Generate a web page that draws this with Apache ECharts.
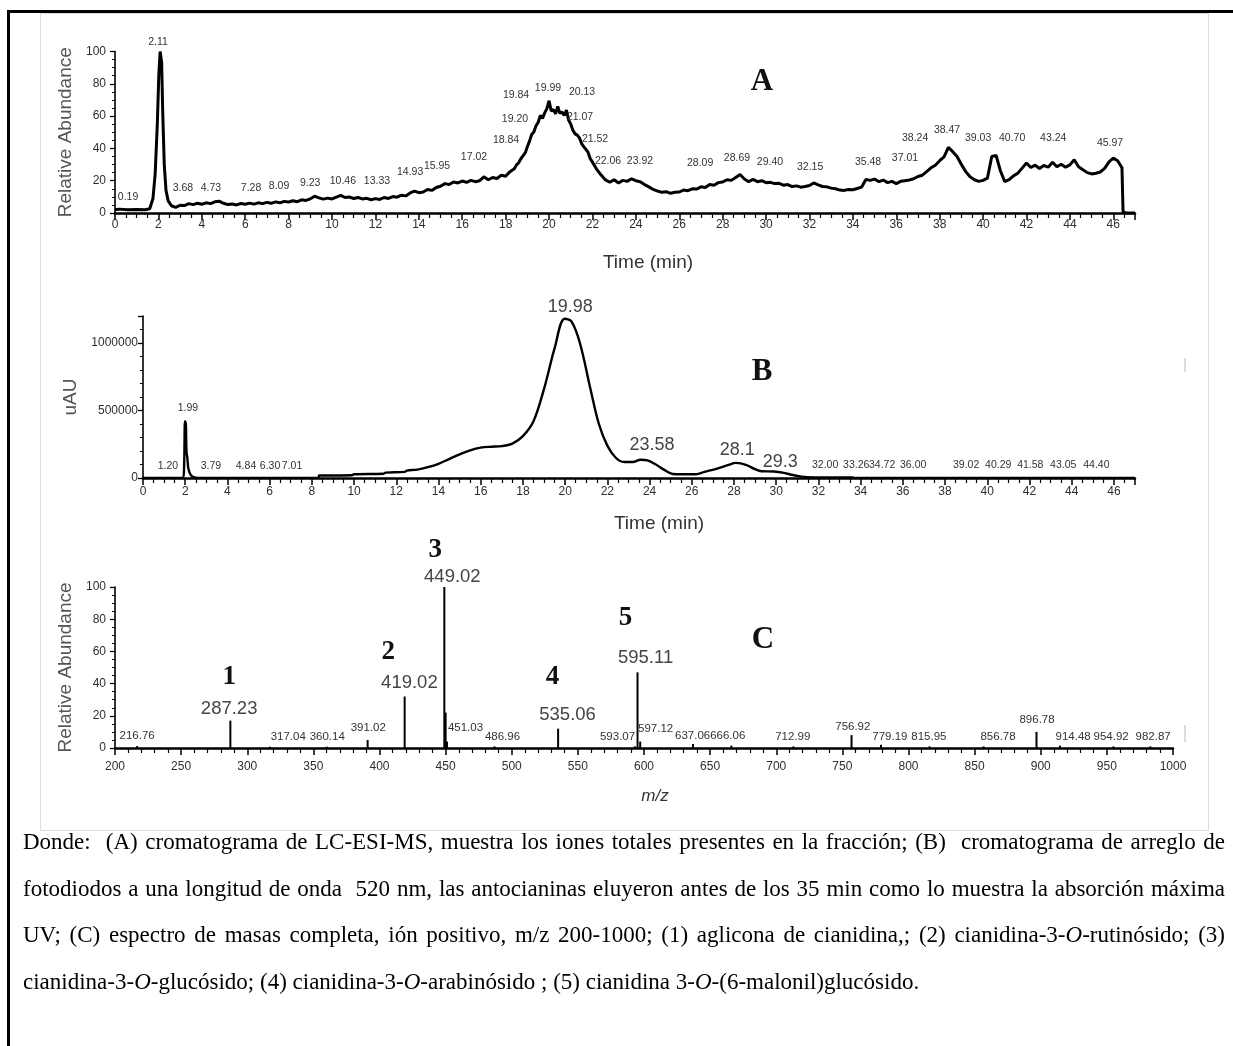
<!DOCTYPE html>
<html lang="es">
<head>
<meta charset="utf-8">
<title>Cromatogramas LC-ESI-MS, DAD y espectro de masas</title>
<script src="https://cdn.jsdelivr.net/npm/echarts/dist/echarts.min.js"></script>
<style>
  html, body { margin: 0; padding: 0; background: #fff; }
  #chart { position: absolute; left: 0; top: 0; width: 1233px; height: 1046px; }
  #caption {
    position: absolute; left: 23px; top: 819px; width: 1202px;
    font-family: "Liberation Serif", "Times New Roman", serif;
    font-size: 23px; line-height: 46.7px; color: #000;
  }
  #caption div { text-align: justify; text-align-last: justify; }
  #caption div.last { text-align-last: left; }
</style>
</head>
<body>
<div id="chart"></div>
<div id="caption">
  <div>Donde:&nbsp; (A) cromatograma de LC-ESI-MS, muestra los iones totales presentes en la fracción; (B)&nbsp; cromatograma de arreglo de</div>
  <div>fotodiodos a una longitud de onda&nbsp; 520 nm, las antocianinas eluyeron antes de los 35 min como lo muestra la absorción máxima</div>
  <div>UV; (C) espectro de masas completa, ión positivo, m/z 200-1000; (1) aglicona de cianidina,; (2) cianidina-3-<i>O</i>-rutinósido; (3)</div>
  <div class="last">cianidina-3-<i>O</i>-glucósido; (4) cianidina-3-<i>O</i>-arabinósido ; (5) cianidina 3-<i>O</i>-(6-malonil)glucósido.</div>
</div>
<script>
// ---- (A) total ion chromatogram: [time (min), relative abundance (%)] ----
const ticTrace = [
  [0,2.0],[0.19,2.4],[0.6,2.0],[1.0,2.1],[1.4,2.0],[1.6,2.6],[1.75,9],[1.85,24],[1.95,55],[2.02,86],[2.08,100],[2.11,99],[2.15,93],[2.2,62],[2.27,30],[2.35,14],[2.45,7.5],
  [2.6,4.5],[2.8,3.5],[3.0,4.8],[3.2,4.6],[3.4,5.8],[3.6,5.2],[3.8,6.0],[4.0,5.4],[4.2,6.3],[4.4,5.8],[4.6,6.9],[4.8,7.3],[5.0,6.0],[5.2,5.2],[5.4,5.6],[5.6,5.0],[5.8,5.9],[6.0,5.4],
  [6.2,6.1],[6.4,5.5],[6.6,6.3],[6.8,5.8],[7.0,6.6],[7.2,6.0],[7.4,6.9],[7.6,6.3],[7.8,7.2],[8.0,6.8],[8.2,7.6],[8.4,7.0],[8.6,8.2],[8.8,7.8],[9.0,8.8],[9.2,10.4],[9.4,9.4],
  [9.6,8.6],[9.8,9.2],[10.0,8.7],[10.2,9.8],[10.4,10.9],[10.6,9.6],[10.8,9.9],[11.0,9.0],[11.2,9.6],[11.4,8.7],[11.6,9.1],[11.8,8.2],[12.0,8.9],[12.2,8.4],[12.4,9.6],[12.6,9.0],
  [12.8,10.2],[13.0,9.8],[13.2,11.0],[13.4,10.6],[13.6,12.4],[13.8,13.6],[14.0,12.6],[14.2,13.0],[14.4,14.6],[14.6,14.0],[14.8,15.8],[15.0,16.6],[15.2,18.2],[15.4,17.6],[15.6,19.2],
  [15.8,18.6],[16.0,19.8],[16.2,19.0],[16.4,20.2],[16.6,19.4],[16.8,20.0],[17.0,22.4],[17.2,20.6],[17.4,22.0],[17.6,21.4],[17.8,23.4],[18.0,22.8],[18.2,25.6],[18.4,27.4],[18.5,29.8],
  [18.6,31.0],[18.7,33.6],[18.8,35.4],[18.9,37.2],[19.0,41.0],[19.1,44.5],[19.2,48.6],[19.3,50.2],[19.4,54.0],[19.5,56.2],[19.6,60.4],[19.7,58.6],[19.8,62.0],[19.9,64.6],[20.0,69.5],
  [20.1,63.2],[20.2,64.0],[20.3,61.4],[20.4,66.0],[20.5,61.8],[20.6,62.5],[20.7,60.4],[20.8,63.8],[20.9,57.6],[21.0,55.0],[21.1,51.2],[21.2,49.0],[21.3,48.2],[21.4,46.5],[21.5,43.0],
  [21.6,41.0],[21.7,39.4],[21.8,37.5],[21.9,33.6],[22.0,31.5],[22.2,27.0],[22.4,23.5],[22.6,20.5],[22.8,19.0],[23.0,20.6],[23.2,18.6],[23.4,20.2],[23.6,19.6],[23.8,21.2],[24.0,20.0],
  [24.2,19.4],[24.4,17.6],[24.6,16.2],[24.8,14.6],[25.0,13.6],[25.2,12.8],[25.4,13.2],[25.6,12.2],[25.8,12.8],[26.0,13.0],[26.2,14.2],[26.4,13.8],[26.6,15.0],[26.8,14.8],[27.0,16.2],
  [27.2,15.8],[27.4,17.6],[27.6,17.2],[27.8,18.8],[28.0,19.2],[28.2,20.6],[28.4,20.2],[28.6,22.0],[28.8,23.8],[29.0,21.0],[29.2,19.4],[29.4,20.8],[29.6,19.4],[29.8,20.0],[30.0,18.8],
  [30.2,19.0],[30.4,18.2],[30.6,18.4],[30.8,17.2],[31.0,17.6],[31.2,16.4],[31.4,16.8],[31.6,16.0],[31.8,16.4],[32.0,17.0],[32.2,18.6],[32.4,17.4],[32.6,16.4],[32.8,16.2],[33.0,15.4],
  [33.2,15.0],[33.4,14.2],[33.6,14.0],[33.8,14.6],[34.0,14.4],[34.2,15.2],[34.4,16.0],[34.6,20.8],[34.8,20.2],[35.0,21.0],[35.2,19.4],[35.4,20.4],[35.6,18.8],[35.8,19.6],[36.0,18.2],
  [36.2,19.6],[36.4,20.0],[36.6,20.4],[36.8,21.2],[37.0,22.6],[37.2,23.4],[37.4,25.6],[37.6,28.0],[37.8,29.6],[38.0,32.4],[38.2,34.8],[38.4,40.6],[38.6,38.0],[38.8,35.0],[39.0,30.0],
  [39.2,25.6],[39.4,22.4],[39.6,20.6],[39.8,19.6],[40.0,20.2],[40.2,21.6],[40.4,35.0],[40.6,35.6],[40.8,26.0],[41.0,19.4],[41.2,20.6],[41.4,23.0],[41.6,24.6],[41.8,27.8],[42.0,31.0],
  [42.2,28.2],[42.4,29.6],[42.6,27.6],[42.8,29.4],[43.0,28.4],[43.2,31.4],[43.4,28.6],[43.6,30.2],[43.8,28.4],[44.0,29.8],[44.2,33.0],[44.4,28.6],[44.6,26.8],[44.8,25.0],[45.0,24.2],
  [45.2,24.6],[45.4,25.4],[45.6,27.6],[45.8,31.6],[46.0,34.0],[46.2,32.4],[46.4,28.0],[46.45,0.6],[46.6,0],[47,0]
];
// retention-time labels of (A): [label anchor time, label anchor abundance, text]
const ticPeakLabels = [
  [0.6,9.9,'0.19'],[1.98,106,'2.11'],[3.13,15.5,'3.68'],[4.42,15.5,'4.73'],[6.27,15.5,'7.28'],[7.56,16.7,'8.09'],
  [8.99,18.6,'9.23'],[10.5,19.8,'10.46'],[12.07,19.8,'13.33'],[13.6,25.4,'14.93'],[14.84,29.1,'15.95'],[16.54,34.7,'17.02'],
  [18.02,45.2,'18.84'],[18.43,58.2,'19.20'],[18.48,73.1,'19.84'],[19.95,77.4,'19.99'],[21.52,74.9,'20.13'],[21.43,59.4,'21.07'],
  [22.12,45.8,'21.52'],[22.72,32.2,'22.06'],[24.19,32.2,'23.92'],[26.96,31,'28.09'],[28.66,34,'28.69'],[30.18,31.6,'29.40'],
  [32.03,28.5,'32.15'],[34.7,31.6,'35.48'],[36.4,34,'37.01'],[36.87,46.4,'38.24'],[38.34,51.4,'38.47'],[39.77,46.4,'39.03'],
  [41.34,46.4,'40.70'],[43.23,46.4,'43.24'],[45.85,43.3,'45.97']
];

// ---- (B) diode-array chromatogram at 520 nm: [time (min), uAU] ----
const dadTrace = [
  [0,0],[1.2,0],[1.9,0],[1.95,100000],[1.99,420000],[2.03,400000],[2.06,200000],[2.1,150000],[2.15,70000],[2.25,25000],[2.4,6000],[2.6,0],
  [8.3,0],[8.35,18000],[9.9,20000],[10.0,28000],[11.4,32000],[11.5,40000],[12.4,45000],[12.5,55000],[13.0,62000],[13.5,80000],[14.0,105000],
  [14.5,140000],[15.0,175000],[15.5,205000],[16.0,225000],[16.5,232000],[17.0,236000],[17.5,255000],[18.0,310000],[18.5,420000],[19.0,660000],
  [19.5,960000],[19.98,1180000],[20.3,1160000],[20.7,1000000],[21.2,660000],[21.6,400000],[22.0,240000],[22.4,150000],[22.8,118000],[23.2,118000],
  [23.58,135000],[23.9,130000],[24.3,100000],[24.7,60000],[25.1,30000],[25.5,28000],[26.2,28000],[26.6,45000],[27.2,70000],[27.7,95000],
  [28.1,112000],[28.6,95000],[29.0,65000],[29.3,50000],[29.9,48000],[30.3,40000],[30.8,22000],[31.2,10000],[31.8,5000],[33.6,5000],[33.7,0],[47,0]
];
// small retention-time labels of (B): [anchor time, anchor uAU, text]
const dadMinorLabels = [
  [2.13,518500,'1.99'],[1.18,88900,'1.20'],[3.22,88900,'3.79'],[4.88,88900,'4.84'],[6.02,88900,'6.30'],[7.06,88900,'7.01'],
  [32.32,96300,'32.00'],[33.79,96300,'33.26'],[35.02,96300,'34.72'],[36.49,96300,'36.00'],[39.0,96300,'39.02'],
  [40.52,96300,'40.29'],[42.04,96300,'41.58'],[43.6,96300,'43.05'],[45.17,96300,'44.40']
];
// main retention-time labels of (B)
const dadMajorLabels = [
  [20.24,1266700,'19.98'],[24.12,244400,'23.58'],[28.15,207400,'28.1'],[30.19,118500,'29.3']
];

// ---- (C) full-scan positive-ion mass spectrum ----
const msMz        = [216.76, 287.23, 317.04, 360.14, 391.02, 419.02, 449.02, 450.0, 451.03, 486.96, 535.06, 593.07, 595.11, 597.12, 637.06, 666.06, 712.99, 756.92, 779.19, 815.95, 856.78, 896.78, 914.48, 954.92, 982.87];
const msIntensity = [1.2,    17,     0.8,    0.8,    5,      32,     100,    22,    4,      1,      12,     1,      47,     4,      2.5,    1.5,    1,      8,      2,      1,      1,      10,     1.5,    1,      1];
// m/z labels of (C): [anchor m/z, anchor abundance, text]
const msMinorLabels = [
  [216.7,7.5,'216.76'],[331,6.8,'317.04'],[360.5,6.8,'360.14'],[391.5,12.4,'391.02'],[465,12.4,'451.03'],[493,6.8,'486.96'],
  [580,6.8,'593.07'],[608.8,11.8,'597.12'],[636.8,7.5,'637.06'],[663.3,7.5,'666.06'],[712.5,6.8,'712.99'],[757.9,13,'756.92'],
  [785.9,6.8,'779.19'],[815.4,6.8,'815.95'],[867.7,6.8,'856.78'],[897.2,17.4,'896.78'],[924.5,6.8,'914.48'],[953.2,6.8,'954.92'],[985,6.8,'982.87']
];
const msMajorLabels = [
  [286.3,24.2,'287.23'],[422.6,40.4,'419.02'],[455.1,106.2,'449.02'],[542.2,20.5,'535.06'],[601.2,55.9,'595.11']
];
// compound numbers over the anthocyanin ions
const msCompoundNumbers = [
  [286.3,44.1,'1'],[406.7,59.6,'2'],[442.2,123,'3'],[530.8,44.1,'4'],[586.1,80.7,'5']
];

const SANS = '"Liberation Sans", Arial, Helvetica, sans-serif';
const SERIF = '"Liberation Serif", "Times New Roman", serif';
const INK = '#000';
const LABEL_GREY = '#2e2e2e';

function xAxisFor(gridIndex, min, max, interval, minorSplit, name, nameGap, nameShift, labelMargin, italicName) {
  return {
    type: 'value', gridIndex, min, max, interval,
    axisLine: { onZero: false, lineStyle: { color: INK, width: 2.5 } },
    axisTick: { show: true, length: 7, lineStyle: { color: INK, width: 1.5 } },
    minorTick: { show: true, splitNumber: minorSplit, length: 5, lineStyle: { color: INK, width: 1.2 } },
    splitLine: { show: false }, minorSplitLine: { show: false },
    axisLabel: {
      margin: labelMargin, color: LABEL_GREY, fontFamily: SANS, fontSize: 12,
      showMaxLabel: max % interval === 0, formatter: v => String(v)
    },
    name, nameLocation: 'middle', nameGap,
    nameTextStyle: {
      color: '#333', fontFamily: SANS, fontSize: italicName ? 17 : 19,
      fontStyle: italicName ? 'italic' : 'normal', padding: [0, 0, 0, nameShift]
    }
  };
}

function yAxisFor(gridIndex, max, interval, minorSplit, name, nameGap, labelMargin) {
  return {
    type: 'value', gridIndex, min: 0, max, interval,
    axisLine: { show: true, lineStyle: { color: INK, width: 1.6 } },
    axisTick: { show: true, length: 5, lineStyle: { color: INK, width: 1.3 } },
    minorTick: { show: true, splitNumber: minorSplit, length: 3, lineStyle: { color: INK, width: 1 } },
    splitLine: { show: false }, minorSplitLine: { show: false },
    axisLabel: { margin: labelMargin, color: LABEL_GREY, fontFamily: SANS, fontSize: 12, showMaxLabel: max % interval === 0, formatter: v => String(v) },
    name, nameLocation: 'middle', nameGap,
    nameTextStyle: { color: '#555', fontFamily: SANS, fontSize: 19 }
  };
}

// annotation text anchored in data coordinates of one panel
function textSeries(axisIndex, items, font, fill) {
  return {
    type: 'custom', xAxisIndex: axisIndex, yAxisIndex: axisIndex, silent: true, z: 6, clip: false,
    data: items.map(d => [d[0], d[1]]),
    renderItem: (params, api) => {
      const p = api.coord([api.value(0), api.value(1)]);
      return {
        type: 'text', x: p[0], y: p[1],
        style: { text: items[params.dataIndex][2], font, fill, textAlign: 'center', textVerticalAlign: 'middle' }
      };
    }
  };
}

const chart = echarts.init(document.getElementById('chart'), null, { renderer: 'canvas' });

chart.setOption({
  animation: false,
  backgroundColor: '#fff',
  grid: [
    { left: 115, top: 51.5, width: 1020, height: 161.5 },
    { left: 143, top: 316, width: 992, height: 162 },
    { left: 115, top: 587, width: 1058, height: 161 }
  ],
  xAxis: [
    xAxisFor(0, 0, 47, 2, 4, 'Time (min)', 40, 46, 6, false),
    xAxisFor(1, 0, 47, 2, 4, 'Time (min)', 36, 40, 8, false),
    xAxisFor(2, 200, 1000, 50, 5, 'm/z', 40, 22, 13, true)
  ],
  yAxis: [
    yAxisFor(0, 100, 20, 4, 'Relative Abundance', 40, 9),
    yAxisFor(1, 1200000, 500000, 5, 'uAU', 62, 5),
    yAxisFor(2, 100, 20, 4, 'Relative Abundance', 40, 9)
  ],
  graphic: [
    // page border and figure frame
    { type: 'rect', shape: { x: 7, y: 10, width: 1226, height: 3 }, style: { fill: '#000' }, silent: true },
    { type: 'rect', shape: { x: 7, y: 10, width: 3, height: 1036 }, style: { fill: '#000' }, silent: true },
    { type: 'rect', shape: { x: 40.5, y: 13.5, width: 1168, height: 817 }, style: { fill: 'none', stroke: '#dcdcdc', lineWidth: 1 }, silent: true },
    // panel letters
    { type: 'text', x: 762, y: 82, style: { text: 'A', font: 'bold 31px ' + SERIF, fill: '#111', textAlign: 'center', textVerticalAlign: 'middle' } },
    { type: 'text', x: 762, y: 372, style: { text: 'B', font: 'bold 31px ' + SERIF, fill: '#111', textAlign: 'center', textVerticalAlign: 'middle' } },
    { type: 'text', x: 763, y: 640, style: { text: 'C', font: 'bold 31px ' + SERIF, fill: '#111', textAlign: 'center', textVerticalAlign: 'middle' } },
    // faint scan marks at the right of panels B and C
    { type: 'line', shape: { x1: 1185, y1: 358, x2: 1185, y2: 372 }, style: { stroke: '#cfcfcf', lineWidth: 1.5 }, silent: true },
    { type: 'line', shape: { x1: 1185, y1: 725, x2: 1185, y2: 742 }, style: { stroke: '#cfcfcf', lineWidth: 1.5 }, silent: true }
  ],
  series: [
    {
      type: 'line', xAxisIndex: 0, yAxisIndex: 0, data: ticTrace, showSymbol: false, symbol: 'none',
      lineStyle: { color: INK, width: 3 }, z: 3
    },
    {
      type: 'line', xAxisIndex: 1, yAxisIndex: 1, data: dadTrace, showSymbol: false, symbol: 'none', smooth: 0.35,
      lineStyle: { color: INK, width: 2.4 }, z: 3
    },
    {
      type: 'custom', xAxisIndex: 2, yAxisIndex: 2, z: 3,
      data: msMz.map((mz, i) => [mz, msIntensity[i]]),
      renderItem: (params, api) => {
        const base = api.coord([api.value(0), 0]);
        const top = api.coord([api.value(0), api.value(1)]);
        return { type: 'line', shape: { x1: base[0], y1: base[1], x2: top[0], y2: top[1] }, style: { stroke: INK, lineWidth: 2 } };
      }
    },
    textSeries(0, ticPeakLabels, '10.5px ' + SANS, '#333'),
    textSeries(1, dadMinorLabels, '10.5px ' + SANS, '#333'),
    textSeries(1, dadMajorLabels, '18px ' + SANS, '#444'),
    textSeries(2, msMinorLabels, '11.5px ' + SANS, '#333'),
    textSeries(2, msMajorLabels, '18.5px ' + SANS, '#444'),
    textSeries(2, msCompoundNumbers, 'bold 27px ' + SERIF, '#111')
  ]
});
</script>
</body>
</html>
